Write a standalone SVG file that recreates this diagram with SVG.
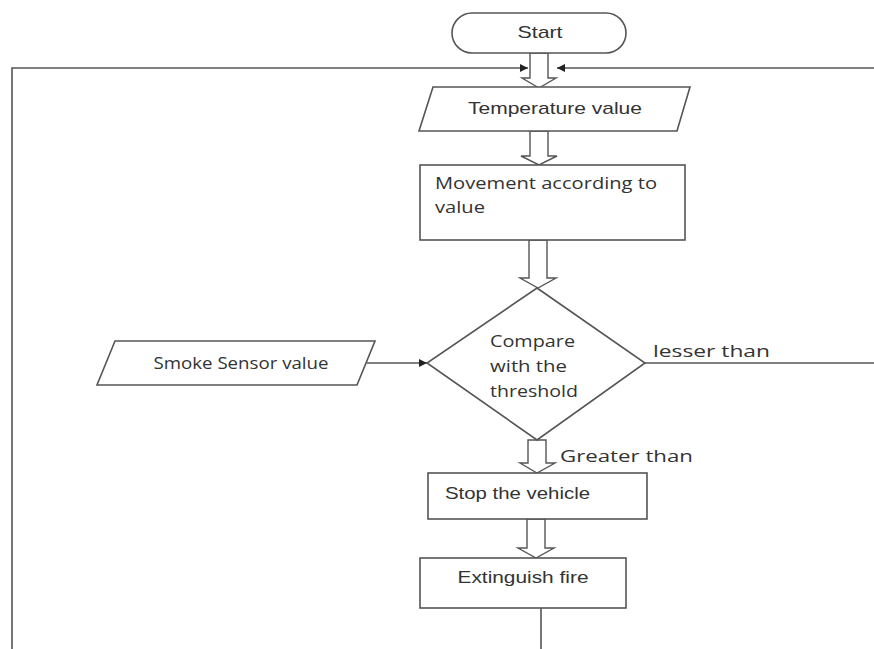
<svg xmlns="http://www.w3.org/2000/svg" width="874" height="649" viewBox="0 0 874 649">
<style>
.shape{fill:#fff;stroke:#555;stroke-width:1.6}
.line{fill:none;stroke:#555;stroke-width:1.6}
.hollow{fill:#fff;stroke:#555;stroke-width:1.4}
.tc{font-family:"Liberation Sans",Arial,sans-serif;font-size:17px;fill:#333}
.ts{font-family:"Open Sans","Liberation Sans",sans-serif;font-size:17px;fill:#333}
</style>
<defs>
<marker id="ah" viewBox="0 0 10 10" refX="10" refY="5" markerWidth="9" markerHeight="8" markerUnits="userSpaceOnUse" orient="auto">
<path d="M0,0 L10,5 L0,10 z" fill="#222"/>
</marker>
</defs>
<rect width="874" height="649" fill="#fff"/>
<g id="connectors">
<path class="line" d="M12,649 V68 H528" marker-end="url(#ah)"/>
<path class="line" d="M874,68 H557" marker-end="url(#ah)"/>
<path class="line" d="M367,363 H427" marker-end="url(#ah)"/>
<path class="line" d="M645,363 H874"/>
<path class="line" d="M541,608 V649"/>
<path class="hollow" d="M530,53 V78 H522 L539,88 L556,78 H548 V53 z"/>
<path class="hollow" d="M530,131 V156 H521 L539,165 L557,156 H548 V131 z"/>
<path class="hollow" d="M529,240 V278 H520 L538,288 L556,278 H547 V240 z"/>
<path class="hollow" d="M528,440 V463 H520 L537,473 L555,463 H546 V440 z"/>
<path class="hollow" d="M527,519 V548 H518 L536,558 L554,548 H545 V519 z"/>
<text class="ts" x="653" y="357" textLength="117" lengthAdjust="spacingAndGlyphs">lesser than</text>
<text class="ts" x="560" y="462" textLength="133" lengthAdjust="spacingAndGlyphs">Greater than</text>
</g>
<g id="start">
<rect class="shape" x="452" y="13" width="174" height="40" rx="20"/>
<text class="tc" x="540" y="38" text-anchor="middle" textLength="45" lengthAdjust="spacingAndGlyphs">Start</text>
</g>
<g id="temperature">
<polygon class="shape" points="433,87 690,87 677,131 419,131"/>
<text class="tc" x="555" y="114" text-anchor="middle" textLength="174" lengthAdjust="spacingAndGlyphs">Temperature value</text>
</g>
<g id="movement">
<rect class="shape" x="420" y="165" width="265" height="75"/>
<text class="ts" x="435" y="189" textLength="222" lengthAdjust="spacingAndGlyphs">Movement according to</text>
<text class="ts" x="435" y="213" textLength="50" lengthAdjust="spacingAndGlyphs">value</text>
</g>
<g id="compare">
<polygon class="shape" points="537,288 645,363 537,440 427,363"/>
<text class="ts" x="490" y="347" textLength="85" lengthAdjust="spacingAndGlyphs">Compare</text>
<text class="ts" x="490" y="372" textLength="77" lengthAdjust="spacingAndGlyphs">with the</text>
<text class="ts" x="490" y="397" textLength="88" lengthAdjust="spacingAndGlyphs">threshold</text>
</g>
<g id="smoke">
<polygon class="shape" points="115,341 375,341 357,385 97,385"/>
<text class="ts" x="241" y="369" text-anchor="middle" textLength="175" lengthAdjust="spacingAndGlyphs">Smoke Sensor value</text>
</g>
<g id="stop">
<rect class="shape" x="428" y="473" width="219" height="46"/>
<text class="tc" x="445" y="499" textLength="145" lengthAdjust="spacingAndGlyphs">Stop the vehicle</text>
</g>
<g id="extinguish">
<rect class="shape" x="420" y="558" width="206" height="50"/>
<text class="tc" x="523" y="583" text-anchor="middle" textLength="131" lengthAdjust="spacingAndGlyphs">Extinguish fire</text>
</g>
</svg>
